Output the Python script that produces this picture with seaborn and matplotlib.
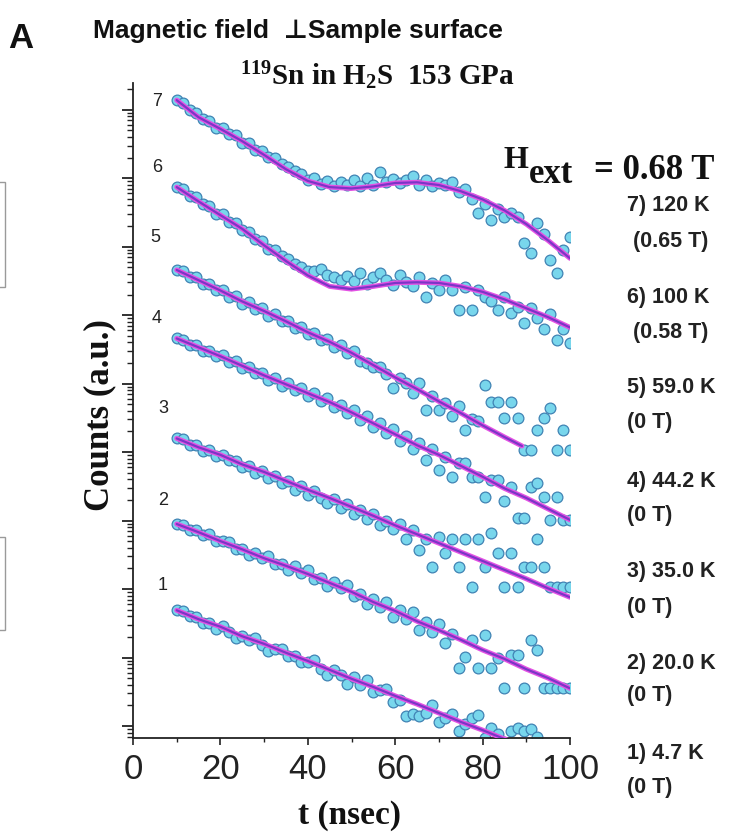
import numpy as np
import pandas as pd
import matplotlib
matplotlib.use("Agg")
import matplotlib.pyplot as plt
import seaborn as sns
from matplotlib.ticker import LogLocator, NullFormatter, MultipleLocator
from matplotlib.patches import Rectangle

# ---------------- data (log10 of counts, arbitrary units) ----------------
t_points = np.arange(10, 100.01, 1.5)

log_counts_1 = [1.69, 1.68, 1.60, 1.59, 1.51, 1.50, 1.42, 1.46, 1.38, 1.29,
                1.32, 1.25, 1.28, 1.19, 1.10, 1.12, 1.13, 1.02, 1.02, 0.93,
                0.94, 0.96, 0.83, 0.75, 0.82, 0.74, 0.62, 0.71, 0.60, 0.67,
                0.50, 0.52, 0.54, 0.35, 0.38, 0.15, 0.18, 0.14, 0.19, 0.31,
                0.06, 0.11, 0.18, -0.08, 0.03, 0.12, 0.16, -0.17, -0.03, -0.12,
                -0.23, -0.08, -0.03, -0.08, -0.05, -0.16, -0.49, -0.45, -0.61, -0.57, -0.72]
log_counts_2 = [2.95, 2.94, 2.86, 2.86, 2.79, 2.80, 2.70, 2.70, 2.69, 2.59,
                2.59, 2.50, 2.53, 2.45, 2.48, 2.37, 2.37, 2.28, 2.33, 2.24,
                2.28, 2.14, 2.16, 2.04, 2.11, 2.01, 2.06, 1.90, 1.93, 1.78,
                1.85, 1.74, 1.81, 1.59, 1.70, 1.57, 1.66, 1.40, 1.52, 1.38,
                1.49, 1.21, 1.34, 0.85, 1.01, 1.25, 0.85, 1.33, 0.85, 1.00,
                0.55, 1.03, 1.03, 0.55, 1.26, 1.11, 0.55, 0.55, 0.55, 0.55, 0.55]
log_counts_3 = [4.20, 4.19, 4.10, 4.11, 4.02, 4.03, 3.94, 3.96, 3.88, 3.87,
                3.78, 3.80, 3.70, 3.73, 3.62, 3.65, 3.55, 3.58, 3.45, 3.50,
                3.38, 3.43, 3.33, 3.25, 3.31, 3.18, 3.24, 3.10, 3.16, 3.02,
                3.09, 2.93, 3.00, 2.88, 2.95, 2.73, 2.86, 2.57, 2.73, 2.32,
                2.76, 2.52, 2.73, 2.32, 2.73, 2.03, 2.73, 2.32, 2.82, 2.52,
                2.03, 2.52, 2.03, 2.32, 2.32, 2.73, 2.32, 2.03, 2.03, 2.03, 2.03]
log_counts_4 = [5.66, 5.64, 5.56, 5.56, 5.47, 5.48, 5.40, 5.42, 5.31, 5.33,
                5.23, 5.25, 5.15, 5.16, 5.06, 5.08, 4.97, 5.01, 4.91, 4.93,
                4.82, 4.86, 4.74, 4.79, 4.66, 4.69, 4.57, 4.62, 4.47, 4.52,
                4.37, 4.43, 4.28, 4.34, 4.16, 4.24, 4.05, 4.14, 3.88, 4.05,
                3.74, 3.93, 3.64, 3.84, 3.84, 3.64, 3.64, 3.34, 3.59, 3.59,
                3.29, 3.49, 3.04, 3.04, 3.49, 3.55, 3.34, 3.01, 3.34, 3.01, 3.01]
log_counts_5 = [6.66, 6.64, 6.55, 6.55, 6.46, 6.45, 6.36, 6.37, 6.27, 6.28,
                6.17, 6.19, 6.09, 6.10, 5.99, 6.01, 5.91, 5.92, 5.81, 5.83,
                5.72, 5.74, 5.63, 5.65, 5.54, 5.57, 5.44, 5.47, 5.33, 5.30,
                5.24, 5.25, 5.14, 4.93, 5.08, 5.01, 4.86, 5.01, 4.61, 4.82,
                4.61, 4.71, 4.52, 4.68, 4.32, 4.48, 4.46, 4.98, 4.73, 4.73,
                4.50, 4.73, 4.50, 4.03, 4.03, 4.32, 4.50, 4.64, 4.03, 4.32, 4.03]
log_counts_6 = [7.87, 7.84, 7.74, 7.72, 7.62, 7.60, 7.48, 7.47, 7.36, 7.34,
                7.24, 7.22, 7.11, 7.08, 6.97, 6.95, 6.86, 6.82, 6.74, 6.70,
                6.64, 6.64, 6.68, 6.58, 6.55, 6.52, 6.57, 6.50, 6.62, 6.45,
                6.55, 6.62, 6.52, 6.44, 6.58, 6.49, 6.42, 6.55, 6.26, 6.47,
                6.36, 6.51, 6.36, 6.07, 6.41, 6.07, 6.36, 6.26, 6.20, 6.07,
                6.26, 6.03, 6.12, 5.88, 6.10, 5.96, 5.80, 6.02, 5.64, 5.80, 5.60]
log_counts_7 = [9.14, 9.10, 9.00, 8.95, 8.86, 8.84, 8.74, 8.73, 8.64, 8.63,
                8.52, 8.52, 8.41, 8.40, 8.31, 8.29, 8.21, 8.16, 8.10, 8.06,
                7.98, 8.01, 7.92, 7.96, 7.88, 7.95, 7.90, 7.97, 7.88, 8.01,
                7.90, 8.09, 7.95, 7.99, 7.93, 7.97, 8.03, 7.90, 7.97, 7.88,
                7.93, 7.90, 7.95, 7.80, 7.84, 7.70, 7.49, 7.62, 7.39, 7.55,
                7.43, 7.49, 7.43, 7.05, 6.91, 7.34, 7.18, 6.80, 6.61, 6.95, 7.14]

fit_t = [10, 15, 20, 25, 30, 35, 40, 45, 50, 55, 60, 65, 70, 75, 80, 85, 90, 95, 100]
fit_t_5 = [10, 15, 20, 25, 30, 35, 40, 45, 50, 55, 60, 65, 70, 75, 80, 85, 89]
fit_1 = [1.69, 1.56, 1.45, 1.31, 1.20, 1.07, 0.95, 0.82, 0.69, 0.57, 0.44, 0.32, 0.19, 0.06, -0.06, -0.19, -0.31, -0.44, -0.57]
fit_2 = [2.95, 2.83, 2.70, 2.58, 2.45, 2.34, 2.22, 2.09, 1.96, 1.81, 1.68, 1.53, 1.40, 1.26, 1.11, 0.98, 0.83, 0.70, 0.55]
fit_3 = [4.20, 4.07, 3.96, 3.82, 3.71, 3.58, 3.45, 3.33, 3.20, 3.07, 2.93, 2.80, 2.67, 2.54, 2.41, 2.28, 2.15, 2.01, 1.88]
fit_4 = [5.66, 5.53, 5.40, 5.26, 5.12, 4.99, 4.86, 4.73, 4.58, 4.42, 4.26, 4.10, 3.96, 3.80, 3.64, 3.47, 3.33, 3.17, 3.01]
fit_5 = [6.66, 6.51, 6.36, 6.20, 6.06, 5.91, 5.75, 5.61, 5.45, 5.27, 5.09, 4.92, 4.74, 4.57, 4.39, 4.22, 4.09]
fit_6 = [7.87, 7.66, 7.46, 7.26, 7.02, 6.79, 6.58, 6.42, 6.38, 6.42, 6.47, 6.48, 6.47, 6.42, 6.34, 6.23, 6.10, 5.97, 5.82]
fit_7 = [9.14, 8.89, 8.72, 8.54, 8.34, 8.13, 7.96, 7.87, 7.85, 7.88, 7.93, 7.94, 7.90, 7.81, 7.69, 7.53, 7.33, 7.09, 6.83]

series_ids = ["1", "2", "3", "4", "5", "6", "7"]
temperatures = ["4.7 K", "20.0 K", "35.0 K", "44.2 K", "59.0 K", "100 K", "120 K"]
fields = ["(0 T)", "(0 T)", "(0 T)", "(0 T)", "(0 T)", " (0.58 T)", " (0.65 T)"]
x_ticks = [0, 20, 40, 60, 80, 100]

# ---------------- style ----------------
sns.set_style("ticks")
plt.rcParams["font.family"] = ["Liberation Sans", "DejaVu Sans"]
plt.rcParams["mathtext.fontset"] = "custom"
plt.rcParams["mathtext.rm"] = "Liberation Serif:bold"
plt.rcParams["mathtext.bf"] = "Liberation Serif:bold"
plt.rcParams["mathtext.it"] = "Liberation Serif:bold:italic"

W, H = 732, 834
fig = plt.figure(figsize=(W / 100, H / 100), dpi=100)
fig.patch.set_facecolor("white")


def fx(px):
    return px / W


def fy(py):
    return 1 - py / H


ax = fig.add_axes([fx(133), fy(738), (570 - 133) / W, (738 - 83) / H])

points = [log_counts_1, log_counts_2, log_counts_3, log_counts_4,
          log_counts_5, log_counts_6, log_counts_7]
fits = [fit_1, fit_2, fit_3, fit_4, fit_5, fit_6, fit_7]
fit_ts = [fit_t, fit_t, fit_t, fit_t, fit_t_5, fit_t, fit_t]

rows = []
for sid, vals in zip(series_ids, points):
    for t, v in zip(t_points, vals):
        rows.append({"t": t, "counts": 10 ** v, "series": sid})
df = pd.DataFrame(rows)

for sid in series_ids:
    sub = df[df["series"] == sid]
    sns.scatterplot(data=sub, x="t", y="counts", ax=ax, s=60,
                    color="#78d6ec", edgecolor="#4083b4", linewidth=0.9,
                    zorder=2, legend=False)

for ft, fv in zip(fit_ts, fits):
    yv = 10 ** np.array(fv)
    sns.lineplot(x=ft, y=yv, ax=ax, color="#e452e4", lw=3.6, zorder=3,
                 estimator=None, sort=False, legend=False)
    sns.lineplot(x=ft, y=yv, ax=ax, color="#7b36c6", lw=1.6, zorder=4,
                 estimator=None, sort=False, legend=False)

ax.set_yscale("log")
ax.set_ylim(10 ** -0.175, 10 ** 9.39)
ax.set_xlim(0, 100)
ax.yaxis.set_major_locator(LogLocator(base=10, numticks=30))
ax.yaxis.set_minor_locator(LogLocator(base=10, subs=np.arange(2, 10), numticks=300))
ax.yaxis.set_major_formatter(NullFormatter())
ax.yaxis.set_minor_formatter(NullFormatter())
ax.set_xticks(x_ticks)
ax.set_xticklabels([str(v) for v in x_ticks])
ax.xaxis.set_minor_locator(MultipleLocator(10))
ax.set_xlabel("")
ax.set_ylabel("")
sns.despine(ax=ax)
for s in ["left", "bottom"]:
    ax.spines[s].set_linewidth(1.3)
    ax.spines[s].set_color("#222222")
ax.tick_params(axis="x", which="major", length=5, width=1.2, labelsize=25,
               pad=6, colors="#222222", direction="out")
ax.tick_params(axis="x", which="minor", length=3, width=1.0, direction="out", colors="#222222")
ax.tick_params(axis="y", which="major", length=8, width=1.3, direction="out", colors="#222222")
ax.tick_params(axis="y", which="minor", length=4, width=1.0, direction="out", colors="#222222")
ax.set_facecolor("none")

# ---------------- texts ----------------
fig.text(fx(21), fy(39), "A", fontsize=25, fontweight="bold", ha="center", va="center",
         color="#111111")
fig.text(fx(298), fy(38), "Magnetic field  \u22a5Sample surface", fontsize=19,
         fontweight="bold", ha="center", va="baseline", color="#111111",
         family=["Liberation Sans", "DejaVu Sans"])
fig.text(fx(240), fy(85), r"$^{119}$Sn in H$_2$S  153 GPa", fontsize=21,
         fontweight="bold", family="Liberation Serif", ha="left", va="baseline",
         color="#111111")
# H_ext = 0.68 T (subscript drawn nearly full size, as in the reference)
serif_kw = dict(fontweight="bold", family="Liberation Serif", ha="left",
                va="baseline", color="#111111")
fig.text(fx(503), fy(168), "H", fontsize=23, **serif_kw)
fig.text(fx(529), fy(183), "ext", fontsize=25, **serif_kw)
fig.text(fx(594), fy(179), "= 0.68 T", fontsize=25, **serif_kw)

fig.text(fx(100), fy(415), "Counts (a.u.)", fontsize=25, fontweight="bold",
         family="Liberation Serif", rotation=90, ha="center", va="center", color="#111111")
fig.text(fx(350), fy(824), "t (nsec)", fontsize=24, fontweight="bold",
         family="Liberation Serif", ha="center", va="baseline", color="#111111")

num_pos = [(163, 585), (163, 500), (163, 408), (157, 318), (155, 237), (157, 168), (157, 102)]
for sid, (px, py) in zip(series_ids, num_pos):
    fig.text(fx(px), fy(py), sid, fontsize=13, ha="center", va="center", color="#222222")

lab_pos = [(753, 787), (663, 695), (572, 607), (482, 515), (387, 423), (298, 333), (205, 242)]
for sid, temp, fld, (y1, y2) in zip(series_ids, temperatures, fields, lab_pos):
    fig.text(fx(627), fy(y1), f"{sid}) {temp}", fontsize=15.5, fontweight="bold",
             ha="left", va="center", color="#222222")
    fig.text(fx(627), fy(y2), fld, fontsize=15.5, fontweight="bold",
             ha="left", va="center", color="#222222")

# cropped boxes at left edge
for (y0, y1) in [(182, 287), (537, 630)]:
    fig.patches.append(Rectangle((fx(-20), fy(y1)), fx(25), (y1 - y0) / H,
                                 transform=fig.transFigure, fill=False,
                                 edgecolor="#9a9a9a", lw=1.0))

fig.savefig("out.png", dpi=100)
